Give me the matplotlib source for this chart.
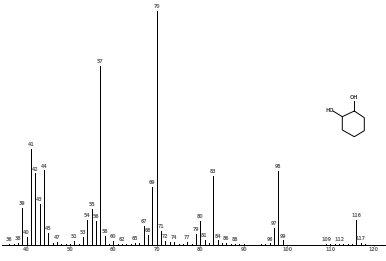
import numpy as np
import matplotlib
matplotlib.use('Agg')
import matplotlib.pyplot as plt

# labelled peaks, m/z and relative intensity
mz = [36, 38, 39, 40, 41, 42, 43, 44, 45, 47, 51, 53, 54, 55, 56, 57, 58, 60, 62,
      65, 67, 68, 69, 70, 71, 72, 74, 77, 79, 80, 81, 83, 84, 86, 88,
      96, 97, 98, 99, 109, 112, 116, 117]
intensity = [0.6, 0.9, 15.8, 3.4, 41.0, 30.6, 17.7, 32.0, 5.3, 1.3, 1.9, 3.4, 10.8, 15.4, 10.4, 76.7, 4.0, 1.7, 0.6,
             1.1, 8.3, 4.4, 24.8, 100.0, 6.1, 1.9, 1.4, 1.4, 4.8, 10.5, 2.3, 29.6, 2.0, 1.1, 0.6,
             0.8, 7.4, 31.8, 2.1, 0.6, 0.6, 10.7, 1.0]
# tiny unlabelled peaks
small_mz = [37, 46, 48, 49, 50, 52, 59, 61, 63, 64, 66, 73, 75, 76, 78, 82, 85, 87, 89, 90, 94, 95, 110, 111, 113, 114, 115, 118]
small_intensity = [0.5, 0.8, 0.5, 0.5, 0.6, 0.6, 0.5, 0.5, 0.5, 0.6, 0.8, 1.4, 0.5, 0.6, 0.5, 0.8, 0.8, 0.5, 0.4, 0.4, 0.5, 0.5, 0.5, 0.5, 0.5, 0.5, 0.6, 0.6]
tick_values = [40, 50, 60, 70, 80, 90, 100, 110, 120]

# cyclohexanediol sketch, in image pixels
ring = [(354.3, 111), (364.3, 117.7), (364.3, 130.7), (354.3, 136.7), (342.3, 130), (342.3, 116.7), (354.3, 111)]
bonds = [[(354.3, 111), (354.3, 101)], [(342.3, 116.7), (333, 111)]]

fig = plt.figure(figsize=(3.86, 2.61), dpi=100)
ax = fig.add_axes([0, 0, 1, 1])
ax.set_xlim(33.87, 122.81)
ax.set_ylim(-6.8, 104.7)
ax.patch.set_visible(False)

ax.vlines(mz, 0, intensity, color='black', lw=0.55, antialiased=False)
ax.vlines(small_mz, 0, small_intensity, color='black', lw=0.55, antialiased=False)

for m, i in zip(mz, intensity):
    ax.text(m, i + 0.7, str(m), ha='center', va='bottom', fontsize=3.4, color='#666666', fontweight='bold')

for s in ['top', 'left', 'right']:
    ax.spines[s].set_visible(False)
ax.spines['bottom'].set_position(('data', 0))
ax.spines['bottom'].set_bounds(34.4, 122.81)
ax.spines['bottom'].set_linewidth(0.72)
ax.set_yticks([])
ax.set_xticks(tick_values)
ax.tick_params(axis='x', length=1.0, width=0.55, pad=0.4, labelsize=3.4, labelcolor='#666666', direction='out')
for t in ax.get_xticklabels():
    t.set_fontweight('bold')

# molecule overlay
mol = fig.add_axes([0, 0, 1, 1])
mol.set_xlim(0, 386)
mol.set_ylim(261, 0)
mol.axis('off')
mol.plot(*zip(*ring), color='black', lw=0.7)
for b in bonds:
    mol.plot(*zip(*b), color='black', lw=0.7)
mol.text(354.3, 97.5, 'OH', ha='center', va='center', fontsize=3.6, color='#444444', fontweight='bold')
mol.text(329.5, 110.5, 'HO', ha='center', va='center', fontsize=3.6, color='#444444', fontweight='bold')

fig.savefig('out.png', dpi=100)
